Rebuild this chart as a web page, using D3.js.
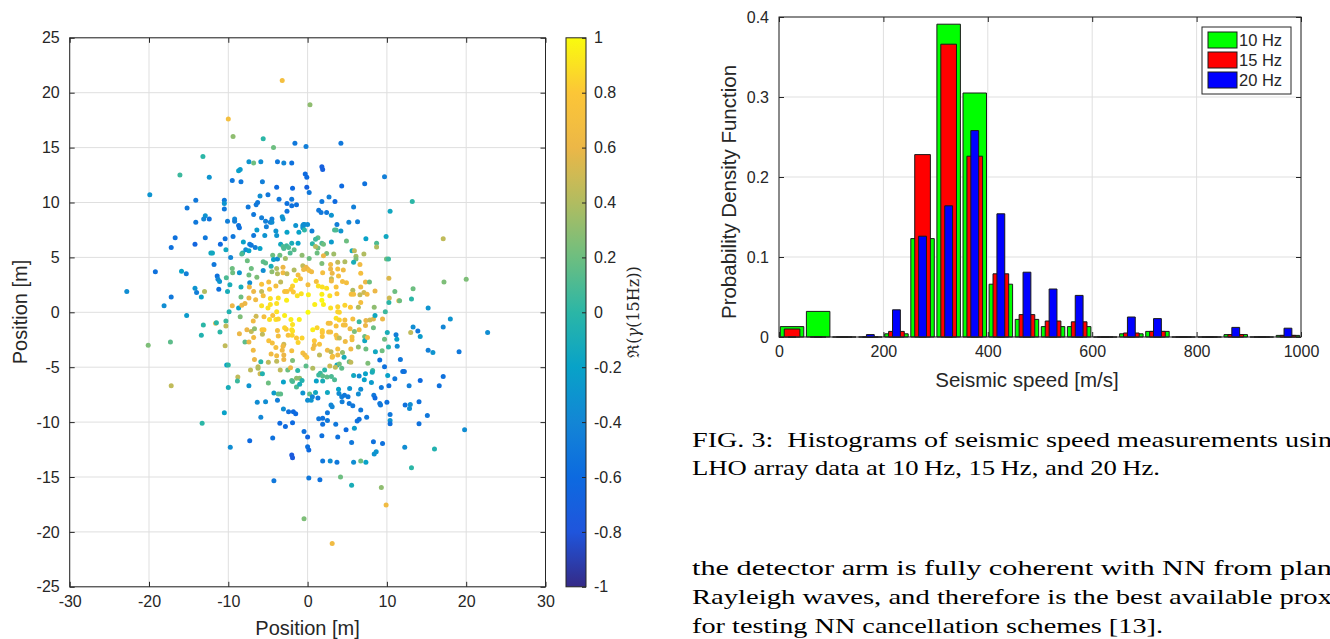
<!DOCTYPE html>
<html>
<head>
<meta charset="utf-8">
<script src="https://cdn.jsdelivr.net/npm/d3@7"></script>
<style>
body { margin: 0; background: #fff; }
svg text { font-family: "Liberation Sans", Arial, sans-serif; fill: #262626; }
.paper { font-family: "Liberation Serif", "Times New Roman", serif; fill: #000; }
</style>
</head>
<body>
<svg id="fig" width="1330" height="639"></svg>
<script>
// ---- data ----
// sensor positions [x m, y m, Re(gamma(15Hz))]
var stations = [
[-3.2,21.1,0.7],[0.3,18.9,0.3],[-10.0,17.6,0.7],[-9.4,16.0,0.3],[-5.6,15.8,0.0],[-4.3,15.0,0.2],[-1.6,15.4,-0.5],[-0.2,15.1,-0.45],
[-13.2,14.2,0.0],[-7.4,13.7,-0.3],[-6.8,13.6,0.2],[-5.9,13.7,-0.35],[-3.8,13.7,-0.5],[-3.0,13.6,-0.4],[-2.0,13.6,-0.55],[-8.7,12.9,-0.2],
[-8.5,13.0,-0.25],[-16.1,12.5,0.05],[-12.4,12.3,-0.3],[-9.5,12.0,-0.5],[-8.4,11.9,-0.5],[-5.7,11.9,-0.45],[-0.3,12.6,-0.6],[-0.1,12.3,-0.6],
[-3.9,11.4,-0.6],[-1.9,11.3,-0.6],[-0.1,11.4,-0.7],[-19.9,10.7,-0.3],[-6.0,10.6,-0.35],[-5.0,10.7,-0.5],[0.2,10.9,-0.5],[-14.1,10.2,-0.5],
[-10.5,10.2,-0.5],[-10.5,9.9,-0.3],[-10.5,9.4,-0.5],[-6.3,10.0,-0.5],[-6.5,9.8,-0.5],[-3.6,10.3,-0.5],[-2.0,10.3,-0.5],[-2.6,9.9,-0.55],
[-2.0,9.7,-0.55],[-1.4,9.8,-0.55],[-15.2,9.5,-0.5],[-7.5,9.6,-0.5],[-2.6,9.2,-0.5],[-12.9,8.8,-0.3],[-13.1,8.5,-0.4],[-12.4,8.5,-0.55],
[-6.8,8.9,-0.5],[-10.1,8.3,-0.45],[-9.2,8.5,-0.4],[-9.2,8.3,-0.45],[-5.8,8.6,-0.45],[-5.3,8.3,-0.45],[-4.5,8.5,-0.45],[-4.7,8.2,-0.45],
[-5.2,7.8,-0.45],[-3.2,8.7,-0.3],[-3.1,8.5,-0.3],[-14.1,8.2,-0.5],[-8.7,7.9,-0.55],[-8.6,7.7,-0.55],[-6.4,7.5,-0.25],[-4.5,8.2,-0.35],
[-4.0,7.4,-0.3],[-3.9,7.0,-0.3],[-1.5,7.9,-0.3],[-0.6,7.9,-0.3],[-0.4,8.0,-0.3],[-0.6,7.7,-0.3],[-1.1,7.3,-0.2],[-0.4,7.5,0.0],
[-6.8,7.0,-0.5],[-5.4,7.0,-0.3],[-2.6,7.3,-0.2],[-16.7,6.8,-0.55],[-12.9,6.8,-0.5],[-10.4,6.7,-0.55],[-9.4,6.9,-0.5],[-17.2,5.9,-0.55],
[-14.2,6.2,-0.65],[-11.0,6.2,-0.6],[-8.1,6.4,-0.2],[-7.3,6.2,-0.45],[-7.1,6.1,-0.5],[-7.8,5.7,-0.35],[-6.6,5.9,-0.45],[-6.0,5.8,-0.2],
[-10.3,5.7,-0.15],[-12.2,5.4,-0.15],[-12.0,5.4,-0.15],[-9.7,5.0,-0.4],[-8.2,5.4,-0.1],[-8.3,5.3,0.1],[-7.4,5.6,-0.2],[-3.4,6.2,-0.15],
[-2.0,6.3,-0.1],[-2.65,6.05,0.05],[-2.4,5.9,0.1],[-1.2,6.3,-0.2],[-3.1,6.0,0.1],[-3.0,5.8,0.1],[-4.4,5.2,0.2],[-4.3,4.8,-0.2],
[-3.8,4.85,-0.35],[-3.5,5.2,0.2],[-2.8,4.9,0.35],[-2.2,5.4,0.1],[-1.7,5.7,0.15],[-0.7,5.2,0.3],[0.2,4.9,0.2],[-7.6,4.7,0.2],
[-5.6,4.6,0.15],[-5.3,4.5,0.15],[-4.6,4.2,-0.1],[-3.9,4.0,0.4],[-3.1,4.1,0.6],[-3.1,3.6,0.65],[-4.5,3.7,0.3],[-5.6,3.8,-0.35],
[-1.7,3.85,0.4],[-0.6,4.25,0.45],[-0.2,4.1,0.6],[-9.5,4.0,0.2],[-19.2,3.7,-0.55],[-15.9,3.75,-0.2],[-15.3,3.5,-0.45],[-11.8,4.35,-0.5],
[-9.45,3.6,0.2],[-8.6,3.6,-0.3],[-7.1,4.0,0.2],[-7.4,3.4,0.2],[-6.4,3.2,0.25],[-3.8,3.5,0.4],[-2.6,3.5,0.45],[-1.2,3.4,0.7],
[-0.9,3.05,0.7],[-1.5,2.9,0.95],[-11.4,3.3,-0.55],[-11.3,3.0,-0.4],[-11.1,2.8,-0.3],[-10.25,3.15,0.1],[-7.3,2.7,-0.35],[-5.8,2.55,0.75],
[-4.9,2.75,0.7],[-3.4,2.75,0.45],[-1.9,2.4,0.85],[-8.4,2.3,-0.1],[-9.8,2.5,-0.1],[-11.2,2.1,-0.55],[-14.2,2.2,-0.3],[-14.0,1.8,-0.45],
[-13.0,1.9,0.4],[-10.1,1.9,-0.1],[-7.35,2.3,0.6],[-6.8,1.9,0.6],[-5.8,1.9,0.45],[-4.8,2.1,0.8],[-4.0,2.4,0.7],[-2.9,1.9,0.75],
[-2.6,1.9,0.75],[-2.1,2.1,0.8],[-1.8,1.85,0.8],[-1.3,1.5,0.9],[-0.8,1.7,0.9],[0.1,1.6,0.95],[-22.8,1.9,-0.35],[-17.2,1.4,-0.5],
[-13.4,1.4,-0.2],[-8.4,1.4,0.2],[-7.4,1.3,0.6],[-6.55,1.15,0.65],[-5.6,1.5,0.7],[-4.7,1.25,0.9],[-3.7,1.3,0.9],[-2.65,1.1,0.95],
[-3.9,0.8,0.9],[-4.7,0.7,0.9],[-18.1,0.6,-0.35],[-9.5,0.6,0.6],[-8.7,0.4,-0.2],[-8.3,0.65,0.6],[-7.9,0.8,0.6],[-5.8,0.6,0.9],
[-5.0,0.4,0.9],
[4.2,15.4,-0.5],[1.8,13.25,-0.7],[1.9,13.0,-0.7],[9.7,12.35,-0.45],[4.3,11.5,-0.6],[7.2,11.7,-0.55],[1.8,10.1,-0.5],[2.7,10.5,-0.45],
[3.45,10.1,-0.6],[13.2,10.1,0.0],[5.8,9.6,-0.45],[1.4,9.3,-0.5],[1.7,9.1,-0.5],[2.4,9.1,-0.5],[3.0,8.85,-0.3],[10.4,9.2,-0.15],
[-0.5,8.0,-0.35],[0.0,8.0,-0.35],[3.7,8.0,-0.45],[5.2,8.2,-0.4],[6.3,8.25,-0.45],[0.55,7.4,-0.45],[3.4,7.5,0.1],[3.6,7.5,0.1],
[4.2,7.4,-0.3],[1.3,6.8,0.15],[1.0,6.65,0.05],[0.6,6.25,0.0],[1.8,6.3,0.1],[2.0,6.2,0.2],[3.0,6.4,-0.25],[4.9,6.5,0.2],
[7.35,6.7,-0.2],[9.9,6.9,-0.15],[8.7,6.3,0.1],[8.7,5.95,0.4],[17.1,6.7,0.45],[1.2,5.4,0.2],[1.3,5.85,0.2],[1.0,6.0,0.4],
[2.4,5.35,0.25],[3.3,5.3,0.35],[2.0,5.15,0.6],[5.6,5.6,-0.1],[5.9,5.6,0.45],[6.1,5.1,0.35],[6.1,4.85,0.25],[7.1,5.3,0.4],
[9.95,4.85,0.2],[10.2,4.85,0.05],[-0.5,3.9,0.65],[0.0,3.95,0.6],[0.2,3.8,0.7],[0.5,3.7,0.65],[1.8,4.45,0.25],[2.9,4.35,0.65],
[3.8,4.55,0.45],[4.7,4.6,0.4],[5.8,4.55,-0.1],[6.6,4.35,0.65],[2.9,3.95,0.6],[3.1,3.55,0.6],[3.8,3.95,0.7],[4.5,3.85,0.65],
[1.9,3.6,0.7],[6.7,3.55,0.7],[3.0,3.05,0.45],[3.0,2.85,0.65],[3.9,3.3,0.7],[1.1,2.8,0.7],[4.4,2.8,0.7],[4.9,2.7,0.7],
[7.3,2.75,0.6],[7.8,2.75,0.2],[10.25,3.1,0.55],[17.2,2.75,0.25],[20.0,3.0,0.25],[0.05,2.5,0.7],[1.35,2.4,0.9],[1.85,2.3,0.9],
[2.4,2.2,0.9],[3.6,2.3,0.75],[5.7,2.0,0.4],[6.7,2.3,0.65],[8.5,1.95,0.6],[11.0,1.9,0.2],[13.3,2.15,0.2],[1.8,1.65,0.95],
[2.8,1.5,0.9],[3.7,1.7,0.8],[5.5,1.65,0.7],[5.8,1.65,0.7],[6.6,1.6,0.45],[7.1,1.8,0.5],[7.5,1.65,0.65],[10.3,1.3,0.5],
[11.5,1.05,0.65],[11.6,1.05,0.2],[13.1,1.2,0.0],[15.2,0.4,-0.3],[10.25,0.9,0.0],[0.9,0.7,0.95],[2.0,0.7,0.95],[1.8,1.1,1.0],
[2.9,0.4,0.9],[3.8,0.5,0.85],[4.7,0.65,0.85],[5.4,0.45,0.8],[6.4,0.45,0.4],[6.7,0.9,0.7],[8.4,0.45,0.3],
[-15.25,-0.3,-0.25],[-13.15,-1.15,0.0],[-11.6,-1.0,0.55],[-11.5,-0.95,0.0],[-10.3,-0.8,0.05],[-10.3,-1.25,0.45],[-9.9,0.05,-0.05],[-8.5,-0.4,0.25],
[-11.05,-1.8,0.0],[-13.4,-2.1,-0.05],[-20.1,-3.0,0.25],[-17.3,-2.7,0.15],[-10.4,-3.05,0.45],[-6.85,-0.8,0.65],[-6.5,-0.35,0.5],[-7.65,-1.6,0.6],
[-7.1,-1.75,0.45],[-6.7,-1.5,0.3],[-8.6,-1.95,0.6],[-6.8,-2.3,0.65],[-7.9,-2.7,0.15],[-7.4,-2.7,0.6],[-5.75,-1.6,0.8],[-5.5,-1.6,0.8],
[-5.7,-2.0,0.45],[-5.5,-0.4,0.7],[-4.8,-0.65,0.9],[-4.4,-0.3,0.75],[-3.9,0.05,0.9],[-4.0,-0.65,0.9],[-3.7,-0.6,0.85],[-2.9,-0.3,0.95],
[-2.1,-0.65,0.95],[-1.05,-0.65,0.95],[-1.9,-1.1,0.9],[0.05,0.0,1.0],[-3.8,-1.65,0.7],[-2.7,-1.55,0.8],[-2.9,-1.4,0.85],[-2.0,-1.6,0.9],
[-1.9,-1.7,0.9],[-3.7,-2.15,0.7],[-2.45,-2.1,0.75],[-1.95,-2.1,0.85],[-1.4,-2.35,0.8],[-0.7,-2.35,0.85],[-1.2,-2.75,0.85],[-4.9,-2.6,0.75],
[-4.45,-2.8,0.7],[-4.0,-3.2,0.7],[-3.0,-2.9,0.5],[-3.1,-3.1,0.65],[-3.2,-3.45,0.65],[-2.0,-3.5,0.7],[-6.85,-3.45,0.65],[-4.6,-3.8,0.65],
[-3.9,-3.95,0.65],[-3.0,-3.9,0.6],[-0.6,-3.7,0.7],[-0.35,-3.9,0.65],[-0.1,-4.1,0.75],[-6.7,-4.3,0.6],[-5.9,-4.5,0.0],[-4.95,-4.55,0.45],
[-3.9,-4.45,0.45],[-3.0,-4.3,0.6],[-1.9,-4.4,0.25],[-10.2,-4.8,-0.2],[-10.0,-4.8,0.0],[-7.2,-5.25,0.45],[-6.25,-4.95,0.45],[-6.25,-5.1,0.4],
[-6.0,-5.6,0.5],[-5.7,-5.6,-0.05],[-3.45,-5.25,0.45],[-2.5,-5.25,0.2],[-2.15,-5.05,0.6],[-1.25,-5.3,0.0],[-0.2,-4.9,0.15],[-8.8,-5.9,0.45],
[-8.85,-6.25,0.05],[-17.2,-6.7,0.45],[-10.0,-6.85,-0.1],[-7.4,-6.7,-0.3],[-4.95,-6.45,0.2],[-3.05,-6.35,-0.2],[-2.0,-6.2,0.15],[-1.9,-6.3,0.1],
[-1.4,-6.0,0.3],[-1.0,-6.0,0.3],[-0.7,-6.2,-0.05],[-1.4,-6.8,0.1],[-1.0,-6.55,-0.1],[-4.25,-7.35,-0.25],[-3.7,-7.45,0.15],[-3.4,-7.45,0.15],
[-0.6,-7.35,-0.3],[-6.35,-8.2,-0.35],[-5.3,-8.15,-0.35],[-3.8,-8.0,-0.45],[-10.5,-9.15,-0.2],[-5.9,-9.55,-0.4],[-3.05,-8.8,-0.35],[-2.4,-9.05,-0.55],
[-1.8,-9.05,-0.6],[-1.5,-9.25,-0.6],[-13.3,-10.1,0.0],[-3.5,-10.1,-0.6],[-1.9,-10.05,-0.6],[-2.8,-10.4,-0.6],[-0.45,-10.85,-0.55],[-7.3,-11.7,-0.6],
[-4.4,-11.45,-0.55],[-9.75,-12.3,-0.35],[-2.0,-13.0,-0.75],[-1.9,-13.25,-0.75],[-4.25,-15.35,-0.5],[-0.45,-18.8,0.25],
[3.8,0.05,0.85],[4.0,0.0,0.85],[9.8,0.05,0.05],[0.65,-1.6,0.95],[1.2,-1.4,0.85],[1.85,-1.65,0.85],[1.85,-2.2,0.75],[1.85,-1.85,0.8],
[2.6,-1.0,0.7],[2.85,-1.0,0.7],[3.6,-0.55,0.9],[4.0,-0.7,0.85],[4.7,-0.7,0.7],[4.5,-1.15,0.7],[4.75,-1.15,0.7],[3.6,-1.25,0.75],
[5.7,-0.6,0.7],[6.5,-0.85,0.05],[7.35,-0.75,0.6],[7.85,-0.7,0.5],[8.3,-0.6,0.55],[8.5,-0.3,-0.15],[9.45,-0.6,0.6],[5.35,-1.5,0.65],
[5.9,-1.75,0.25],[6.5,-1.6,0.65],[7.3,-1.2,0.6],[8.3,-1.4,0.2],[2.65,-1.8,0.7],[2.9,-1.8,0.7],[3.6,-2.1,0.7],[3.7,-2.35,0.7],
[4.0,-2.35,0.45],[4.75,-2.65,0.65],[5.6,-2.25,0.7],[5.6,-2.5,0.7],[7.2,-2.2,0.2],[7.2,-2.6,-0.15],[7.55,-2.3,0.65],[0.85,-3.0,0.65],
[0.7,-3.3,0.65],[1.5,-2.9,0.75],[0.85,-2.6,0.8],[2.5,-3.45,0.65],[2.95,-3.6,0.45],[3.8,-3.35,0.7],[4.4,-3.65,0.3],[5.45,-3.35,0.65],
[6.4,-3.15,0.3],[7.35,-3.35,0.2],[8.55,-3.6,-0.15],[9.4,-3.5,0.2],[10.05,-1.85,-0.1],[9.7,-2.45,0.2],[10.2,-3.15,0.0],[11.15,-2.05,-0.45],
[11.25,-2.45,-0.2],[11.3,-3.1,-0.35],[13.3,-1.35,-0.35],[13.9,-1.7,-0.5],[14.2,-2.2,-0.25],[13.0,-1.85,0.45],[17.1,-1.35,-0.4],[18.0,-0.6,-0.3],
[22.7,-1.85,-0.35],[15.2,-3.45,-0.45],[15.8,-3.65,-0.3],[19.1,-3.6,-0.5],[11.7,-4.3,-0.5],[1.5,-3.9,0.45],[3.15,-4.0,0.7],[3.1,-4.1,0.7],
[3.8,-3.9,0.65],[4.6,-4.1,-0.1],[5.25,-4.5,0.2],[5.45,-4.55,0.45],[3.7,-4.8,-0.15],[4.0,-4.7,0.2],[4.3,-5.1,0.15],[3.5,-5.0,0.45],
[2.8,-4.9,0.5],[7.6,-4.65,0.25],[9.1,-4.35,-0.55],[9.7,-4.95,-0.55],[0.65,-5.1,0.4],[2.15,-5.25,0.0],[1.6,-5.55,0.05],[1.4,-5.7,0.05],
[1.9,-5.8,0.15],[2.45,-5.9,0.15],[3.0,-5.85,0.1],[3.4,-6.15,0.1],[1.1,-6.25,-0.2],[1.9,-6.25,-0.1],[5.8,-5.75,-0.15],[6.5,-5.8,-0.35],
[7.3,-5.6,-0.2],[8.2,-5.3,0.05],[8.15,-5.45,-0.1],[7.15,-6.15,-0.2],[8.05,-6.4,-0.25],[10.1,-5.75,-0.2],[11.0,-6.05,-0.5],[12.0,-5.4,-0.55],
[12.2,-5.4,-0.55],[12.8,-6.7,-0.45],[14.2,-6.2,-0.6],[17.1,-5.85,-0.55],[16.6,-6.7,-0.55],[9.3,-6.85,-0.5],[10.25,-6.7,-0.55],[3.9,-7.0,-0.2],
[5.3,-6.95,-0.3],[6.7,-7.0,-0.35],[0.25,-7.45,0.15],[1.0,-7.3,-0.15],[2.5,-7.3,-0.15],[0.6,-7.7,-0.4],[0.0,-8.0,-0.35],[0.45,-8.0,-0.3],
[1.3,-7.8,-0.5],[3.95,-7.4,-0.35],[4.3,-7.7,-0.45],[4.65,-7.55,-0.5],[5.1,-7.7,-0.5],[4.35,-8.15,-0.45],[5.25,-8.3,-0.5],[5.7,-8.5,-0.5],
[6.4,-7.45,-0.35],[8.35,-7.55,-0.5],[8.5,-7.8,-0.6],[9.1,-8.3,-0.5],[9.2,-8.45,-0.5],[10.0,-8.2,-0.55],[12.3,-8.45,-0.55],[12.95,-8.4,-0.35],
[12.85,-8.75,-0.35],[14.05,-8.15,-0.55],[2.95,-8.45,-0.4],[3.1,-8.6,-0.4],[2.5,-9.15,-0.5],[6.7,-8.9,-0.5],[10.4,-9.3,-0.5],[15.1,-9.4,-0.5],
[1.4,-9.7,-0.5],[1.9,-9.65,-0.55],[1.9,-10.2,-0.55],[2.5,-9.85,-0.5],[3.55,-10.2,-0.5],[6.25,-9.9,-0.55],[6.5,-9.75,-0.55],[7.45,-9.55,-0.5],
[10.4,-9.85,-0.3],[10.4,-10.15,-0.55],[14.05,-10.15,-0.55],[19.8,-10.7,-0.35],[4.85,-10.7,-0.6],[5.9,-10.55,-0.25],[0.0,-11.35,-0.65],[1.8,-11.25,-0.55],
[3.8,-11.35,-0.55],[5.55,-11.85,-0.5],[8.3,-11.8,-0.55],[9.45,-11.95,-0.55],[0.0,-12.25,-0.55],[0.15,-12.55,-0.6],[12.25,-12.3,-0.35],[16.0,-12.45,-0.05],
[8.4,-12.9,-0.3],[8.65,-12.7,-0.3],[1.9,-13.55,-0.5],[2.85,-13.55,-0.35],[3.7,-13.65,-0.5],[5.8,-13.65,-0.35],[6.7,-13.55,0.2],[7.35,-13.65,-0.2],
[13.1,-14.15,0.0],[0.15,-15.1,-0.5],[1.55,-15.25,-0.55],[4.15,-15.0,0.2],[5.55,-15.75,-0.1],[9.3,-15.95,0.3],[9.9,-17.55,0.65],[3.1,-21.05,0.65]
];

var posTicksX = [-30, -20, -10, 0, 10, 20, 30];
var posTicksY = [-25, -20, -15, -10, -5, 0, 5, 10, 15, 20, 25];
var cohTicks = [-1, -0.8, -0.6, -0.4, -0.2, 0, 0.2, 0.4, 0.6, 0.8, 1];

// histogram: bin centres [m/s] and pdf per frequency
var speedBins = [25, 75, 125, 175, 225, 275, 325, 375, 425, 475, 525, 575, 625, 675, 725, 775, 825, 875, 925, 975];
var pdf10Hz = [0.013, 0.032, 0, 0, 0.004, 0.123, 0.391, 0.305, 0.066, 0.022, 0.013, 0.013, 0, 0.004, 0.007, 0, 0, 0.003, 0, 0.002];
var pdf15Hz = [0.010, 0, 0, 0, 0.007, 0.228, 0.366, 0.226, 0.079, 0.028, 0.020, 0.019, 0, 0.005, 0.007, 0, 0, 0.003, 0, 0.002];
var pdf20Hz = [0, 0, 0, 0.003, 0.034, 0.126, 0.164, 0.258, 0.154, 0.081, 0.060, 0.052, 0, 0.025, 0.023, 0, 0, 0.012, 0, 0.011];
var freqLabels = ["10 Hz", "15 Hz", "20 Hz"];
var speedTicks = [0, 200, 400, 600, 800, 1000];
var pdfTicks = [0, 0.1, 0.2, 0.3, 0.4];

// parula-like colormap, stops at -1, -0.8, ... 1
var parulaStops = ["#352a87", "#1f55dc", "#0d6ae0", "#1386d5", "#08a2c8", "#2bb6a6",
                   "#6dbe80", "#b1bc60", "#ecb747", "#fcc637", "#f9fb0e"];

var svg = d3.select("#fig");
var axisCol = "#262626", gridCol = "#dfdfdf";
var fmt = function(d) { return String(d); };

var parula = d3.scaleLinear()
    .domain(parulaStops.map(function(d, i) { return -1 + 2 * i / (parulaStops.length - 1); }))
    .range(parulaStops)
    .interpolate(d3.interpolateRgb)
    .clamp(true);

function drawGrid(g, x, y, xt, yt) {
    var x0 = x.range()[0], x1 = x.range()[1], y0 = y.range()[0], y1 = y.range()[1];
    var grid = g.append("g");
    grid.selectAll("line.gx").data(xt).enter().append("line")
        .attr("x1", function(d) { return x(d); }).attr("x2", function(d) { return x(d); })
        .attr("y1", y0).attr("y2", y1).attr("stroke", gridCol).attr("stroke-width", 1);
    grid.selectAll("line.gy").data(yt).enter().append("line")
        .attr("y1", function(d) { return y(d); }).attr("y2", function(d) { return y(d); })
        .attr("x1", x0).attr("x2", x1).attr("stroke", gridCol).attr("stroke-width", 1);
}

// ticks inward on all four sides + box, matlab style
function drawFrame(g, x, y, xt, yt, tickFont) {
    var x0 = x.range()[0], x1 = x.range()[1], y0 = y.range()[0], y1 = y.range()[1];
    var bottom = g.append("g").attr("transform", "translate(0," + y0 + ")")
        .call(d3.axisBottom(x).tickValues(xt).tickSize(-5).tickPadding(9).tickFormat(fmt));
    var left = g.append("g").attr("transform", "translate(" + x0 + ",0)")
        .call(d3.axisLeft(y).tickValues(yt).tickSize(-5).tickPadding(10).tickFormat(fmt));
    var top = g.append("g").attr("transform", "translate(0," + y1 + ")")
        .call(d3.axisTop(x).tickValues(xt).tickSize(-5).tickFormat(""));
    var right = g.append("g").attr("transform", "translate(" + x1 + ",0)")
        .call(d3.axisRight(y).tickValues(yt).tickSize(-5).tickFormat(""));
    [bottom, left, top, right].forEach(function(a) {
        a.select(".domain").remove();
        a.selectAll("line").attr("stroke", axisCol);
        a.selectAll("text").attr("font-size", tickFont).attr("fill", axisCol)
            .attr("font-family", "'Liberation Sans', Arial, sans-serif");
    });
    g.append("rect").attr("x", x0).attr("y", y1).attr("width", x1 - x0).attr("height", y0 - y1)
        .attr("fill", "none").attr("stroke", axisCol).attr("stroke-width", 1);
}

// ---- left: sensor positions coloured by coherence ----
var posX = d3.scaleLinear().domain([-30, 30]).range([69.7, 545.5]);
var posY = d3.scaleLinear().domain([-25, 25]).range([586.8, 37.8]);
var left = svg.append("g");
drawGrid(left, posX, posY, posTicksX, posTicksY);

left.append("g").selectAll("circle").data(stations).enter().append("circle")
    .attr("cx", function(d) { return posX(d[0]); })
    .attr("cy", function(d) { return posY(d[1]); })
    .attr("r", 2.5)
    .attr("fill", function(d) { return parula(d[2]); });

drawFrame(left, posX, posY, posTicksX, posTicksY, "16px");

left.append("text").attr("x", 307.6).attr("y", 635).attr("text-anchor", "middle")
    .attr("font-size", "20px").text("Position [m]");
left.append("text").attr("transform", "translate(27,312) rotate(-90)").attr("text-anchor", "middle")
    .attr("font-size", "20px").text("Position [m]");

// colorbar
var cohY = d3.scaleLinear().domain([-1, 1]).range([586.8, 37.8]);
var defs = svg.append("defs");
var grad = defs.append("linearGradient").attr("id", "parula")
    .attr("x1", 0).attr("y1", 1).attr("x2", 0).attr("y2", 0);
d3.range(0, 1.0001, 0.025).forEach(function(t) {
    grad.append("stop").attr("offset", t).attr("stop-color", parula(-1 + 2 * t));
});
var cbar = svg.append("g");
cbar.append("rect").attr("x", 566).attr("y", cohY(1)).attr("width", 20).attr("height", cohY(-1) - cohY(1))
    .attr("fill", "url(#parula)").attr("stroke", axisCol).attr("stroke-width", 1);
var cax = cbar.append("g").attr("transform", "translate(586,0)")
    .call(d3.axisRight(cohY).tickValues(cohTicks).tickSize(-4).tickPadding(8).tickFormat(fmt));
cax.select(".domain").remove();
cax.selectAll("line").attr("stroke", axisCol);
cax.selectAll("text").attr("font-size", "16px").attr("fill", axisCol)
    .attr("font-family", "'Liberation Sans', Arial, sans-serif");
var cl = cbar.append("text").attr("transform", "translate(639,312) rotate(-90)")
    .attr("text-anchor", "middle").attr("font-size", "16px")
    .style("font-family", "'DejaVu Serif', serif");
cl.append("tspan").text("\u211C(");
cl.append("tspan").attr("font-style", "italic").text("\u03B3");
cl.append("tspan").text("(15Hz))");

// ---- right: histogram of seismic speeds ----
var speedX = d3.scaleLinear().domain([0, 1000]).range([779, 1301]);
var pdfY = d3.scaleLinear().domain([0, 0.4]).range([337, 17]);
var hist = svg.append("g");
drawGrid(hist, speedX, pdfY, speedTicks, pdfTicks);

var series = [
    { vals: pdf10Hz, width: 45, color: "#00ff00" },
    { vals: pdf15Hz, width: 30, color: "#ff0000" },
    { vals: pdf20Hz, width: 15, color: "#0000ff" }
];
function barPath(c, w, h) {
    var xa = speedX(c - w / 2), xb = speedX(c + w / 2), ya = pdfY(0), yb = pdfY(h);
    return "M" + xa + "," + ya + "V" + yb + "H" + xb + "V" + ya + "Z";
}
series.forEach(function(s) {
    hist.append("g").selectAll("path").data(s.vals).enter().append("path")
        .attr("d", function(d, i) { return barPath(speedBins[i], s.width, d); })
        .attr("fill", s.color).attr("stroke", "#1a1a1a").attr("stroke-width", 1);
});

drawFrame(hist, speedX, pdfY, speedTicks, pdfTicks, "16px");

hist.append("text").attr("x", 1027).attr("y", 387).attr("text-anchor", "middle")
    .attr("font-size", "20.5px").text("Seismic speed [m/s]");
hist.append("text").attr("transform", "translate(736,192) rotate(-90)").attr("text-anchor", "middle")
    .attr("font-size", "20.5px").text("Probability Density Function");

// legend
var leg = hist.append("g");
leg.append("rect").attr("x", 1202).attr("y", 27).attr("width", 89).attr("height", 67)
    .attr("fill", "#fff").attr("stroke", axisCol).attr("stroke-width", 1);
series.forEach(function(s, i) {
    var cy = 40 + i * 20;
    leg.append("rect").attr("x", 1208).attr("y", cy - 8).attr("width", 29).attr("height", 16)
        .attr("fill", s.color).attr("stroke", "#1a1a1a").attr("stroke-width", 1);
    leg.append("text").attr("x", 1239).attr("y", cy).attr("dy", "0.36em")
        .attr("font-size", "16.5px").text(freqLabels[i]);
});

// ---- paper text around the figure ----
var lines = [
    { t: "FIG. 3:  Histograms of seismic speed measurements usin", y: 447, w: 640 },
    { t: "LHO array data at 10\u2009Hz, 15\u2009Hz, and 20\u2009Hz.", y: 475, w: 468 },
    { t: "the detector arm is fully coherent with NN from plan", y: 575, w: 640 },
    { t: "Rayleigh waves, and therefore is the best available prox", y: 604, w: 640 },
    { t: "for testing NN cancellation schemes [13].", y: 633, w: 471 }
];
svg.append("g").selectAll("text").data(lines).enter().append("text")
    .attr("class", "paper")
    .attr("x", 692).attr("y", function(d) { return d.y; })
    .attr("font-size", "22px")
    .attr("textLength", function(d) { return d.w; })
    .attr("lengthAdjust", "spacingAndGlyphs")
    .attr("xml:space", "preserve")
    .text(function(d) { return d.t; });
</script>
</body>
</html>
